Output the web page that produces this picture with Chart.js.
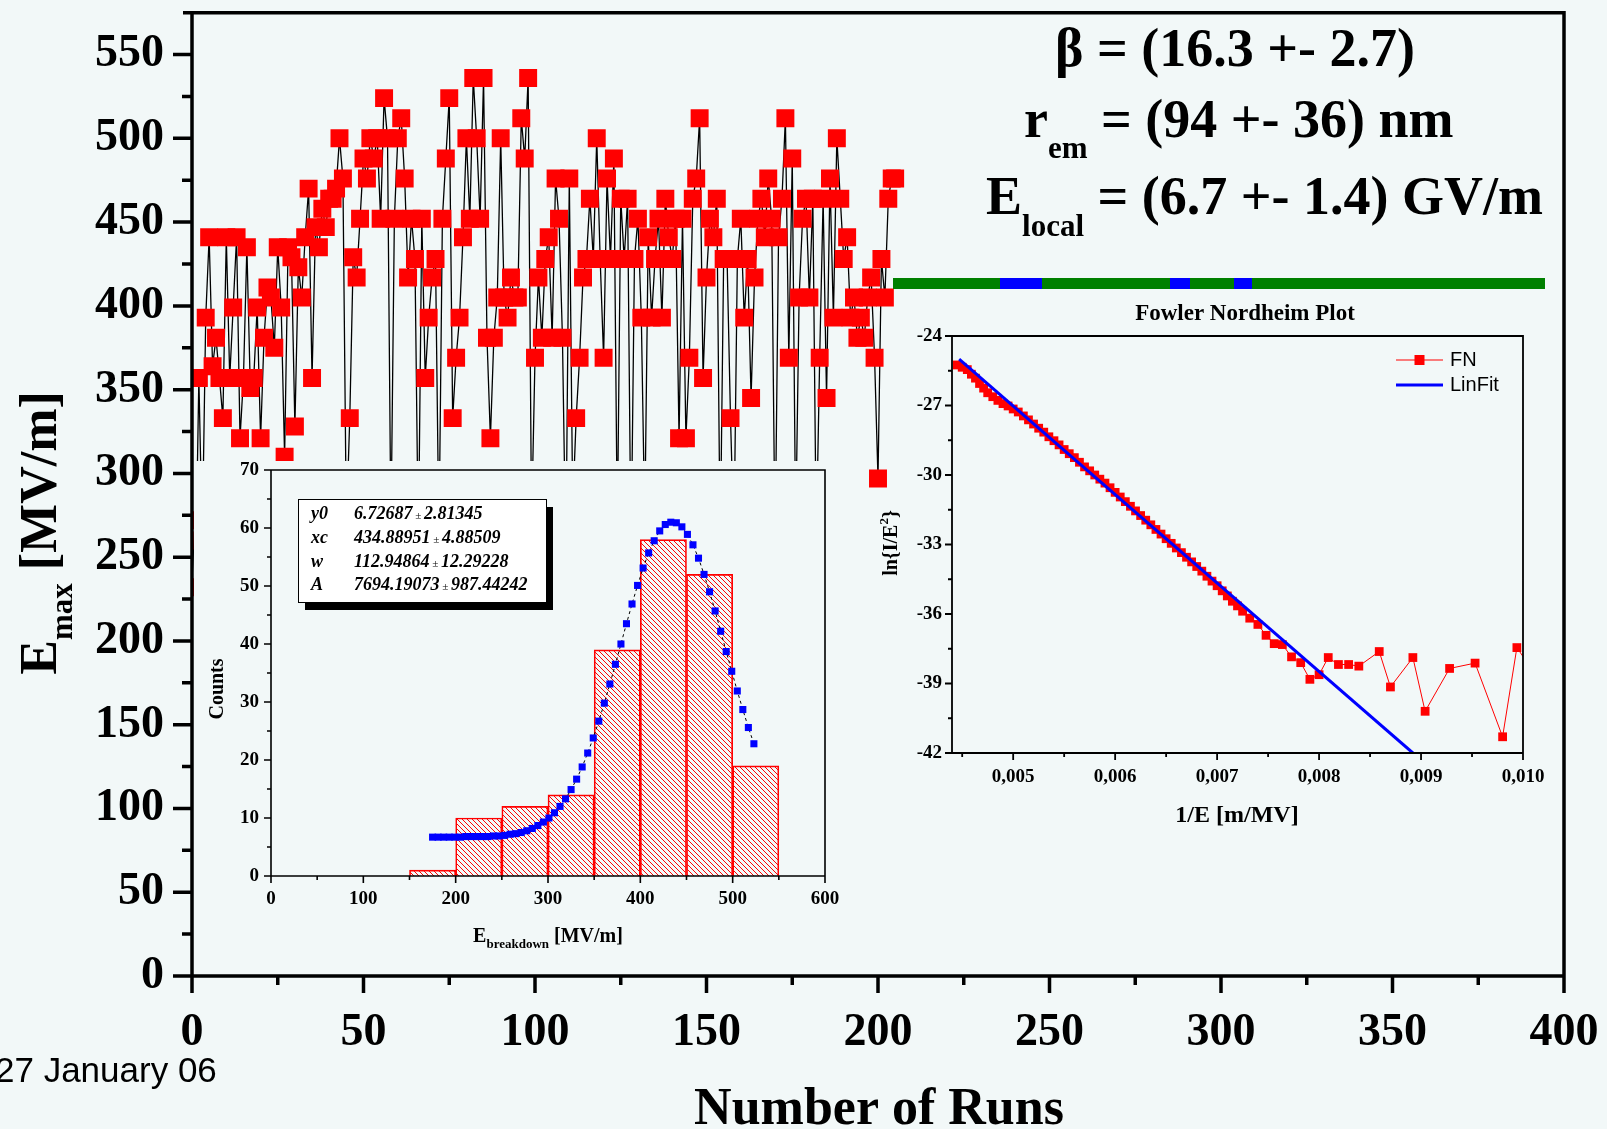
<!DOCTYPE html>
<html><head><meta charset="utf-8">
<script src="https://cdn.jsdelivr.net/npm/chart.js@4/dist/chart.umd.min.js"></script>
<style>
html,body{margin:0;padding:0;background:#f2f8f8;overflow:hidden;}
#wrap{position:relative;width:1607px;height:1129px;background:#f2f8f8;}
canvas{position:absolute;}
#main{left:0;top:0;}
#hist{left:194px;top:461px;background:#f2f8f8;}
#fn{left:878px;top:295px;}
</style></head><body>
<div id="wrap">
<canvas id="main" width="1607" height="1129"></canvas>
<canvas id="hist" width="675" height="512"></canvas>
<canvas id="fn" width="680" height="535"></canvas>
</div>
<script>
// ================= DATA =================
// Main chart: breakdown field E_max [MV/m] for each run (index = run number)
const runValues = [
272,232,357,260,393,441,364,381,357,333,
441,357,399,441,321,357,435,351,357,399,
321,381,411,405,375,435,399,310,435,429,
328,423,405,441,470,357,447,435,458,447,
464,464,470,500,476,270,333,429,417,452,
488,476,500,488,500,452,524,500,265,452,
500,512,476,417,452,428,255,452,357,393,
417,428,260,452,488,524,333,369,393,441,
500,452,536,500,452,536,381,321,381,405,
500,405,393,417,405,405,512,488,536,270,
369,417,381,428,441,381,476,452,381,250,
476,280,333,369,417,428,464,428,500,428,
369,476,428,488,265,464,428,464,250,428,
452,393,270,441,393,428,452,393,464,441,
428,452,321,452,321,369,464,476,512,357,
417,452,441,464,255,428,428,333,260,428,
452,393,428,345,417,452,464,441,476,452,
255,441,464,512,369,488,265,405,452,464,
405,464,260,369,464,345,476,393,500,464,
428,441,393,405,381,393,381,405,417,369,
297,428,405,464,476,476];
const xMajorTicks = [0,50,100,150,200,250,300,350,400];
const xMinorTicks = [25,75,125,175,225,275,325,375];
const yMajorTicks = [0,50,100,150,200,250,300,350,400,450,500,550];
const yMinorTicks = [25,75,125,175,225,275,325,375,425,475,525];

// Histogram inset
const histCenters = [175,225,275,325,375,425,475,525];
const histCounts  = [1,10,12,14,39,58,52,19];
const fitX = [175,181,187,193,199,205,211,217,223,229,235,241,247,253,259,265,271,277,283,289,
  295,301,307,313,319,325,331,337,343,349,355,361,367,373,379,385,391,397,403,409,
  415,421,427,433,439,445,451,457,463,469,475,481,487,493,499,505,511,517,523];
const fitY = [6.7,6.7,6.7,6.7,6.7,6.7,6.8,6.8,6.8,6.8,6.8,6.9,6.9,7.0,7.2,7.3,7.5,7.8,8.2,8.7,
  9.3,10.0,10.9,12.0,13.3,14.9,16.7,18.8,21.2,23.8,26.7,29.8,33.1,36.5,40.0,43.5,46.9,50.1,53.1,55.7,
  57.8,59.5,60.6,61.0,60.9,60.2,58.9,57.1,54.8,52.0,49.0,45.7,42.2,38.7,35.3,31.9,28.7,25.6,22.8];
const histXMajor = [0,100,200,300,400,500,600];
const histXMinor = [50,150,250,350,450,550];
const histYMajor = [0,10,20,30,40,50,60,70];
const histYMinor = [5,15,25,35,45,55,65];
const fitNames  = ['y0','xc','w','A'];
const fitValues = ['6.72687','434.88951','112.94864','7694.19073'];
const fitErrors = ['2.81345','4.88509','12.29228','987.44242'];

// Fowler Nordheim inset
const fnX = [0.00445,0.00450,0.00455,0.00459,0.00463,0.00467,0.00471,0.00475,0.00480,0.00485,
  0.00490,0.00495,0.00500,0.00505,0.00510,0.00515,0.00520,0.00525,0.00530,0.00535,
  0.00540,0.00545,0.00550,0.00555,0.00560,0.00565,0.00570,0.00575,0.00580,0.00585,
  0.00590,0.00595,0.00600,0.00605,0.00610,0.00615,0.00620,0.00625,0.00630,0.00635,
  0.00640,0.00645,0.00650,0.00655,0.00660,0.00665,0.00670,0.00675,0.00680,0.00685,
  0.00690,0.00695,0.00700,0.00705,0.00710,0.00715,0.00720,0.00725,0.00732,0.00740,
  0.00748,0.00756,0.00764,0.00773,0.00782,0.00791,0.00800,0.00809,0.00819,0.00829,
  0.00839,0.00859,0.00870,0.00892,0.00904,0.00928,0.00953,0.00980,0.00994,0.01015];
const fnY = [-25.25,-25.35,-25.45,-25.65,-25.82,-26.05,-26.25,-26.45,-26.62,-26.78,
  -26.92,-27.02,-27.15,-27.28,-27.45,-27.62,-27.80,-27.98,-28.15,-28.35,
  -28.52,-28.70,-28.90,-29.08,-29.25,-29.45,-29.65,-29.82,-30.00,-30.18,
  -30.35,-30.55,-30.75,-30.95,-31.15,-31.35,-31.55,-31.75,-31.95,-32.15,
  -32.35,-32.55,-32.75,-32.95,-33.15,-33.35,-33.55,-33.75,-33.95,-34.15,
  -34.37,-34.58,-34.78,-35.00,-35.22,-35.45,-35.65,-35.88,-36.18,-36.45,
  -36.92,-37.28,-37.32,-37.85,-38.10,-38.82,-38.62,-37.88,-38.18,-38.18,
  -38.25,-37.62,-39.15,-37.88,-40.20,-38.35,-38.12,-41.30,-37.45,-38.80];
const linFitX = [0.00447,0.00892];
const linFitY = [-25.0,-42.0];
const fnXMajor = [0.005,0.006,0.007,0.008,0.009,0.010];
const fnXMinor = [0.0045,0.0055,0.0065,0.0075,0.0085,0.0095];
const fnYMajor = [-42,-39,-36,-33,-30,-27,-24];
const fnYMinor = [-40.5,-37.5,-34.5,-31.5,-28.5,-25.5];

// ================= HELPERS =================
const SERIF = '"Liberation Serif","Times New Roman",serif';
const SANS = '"Liberation Sans",Arial,sans-serif';
function seg(ctx,x1,y1,x2,y2){ctx.moveTo(x1,y1);ctx.lineTo(x2,y2);}
function richWidth(ctx, parts){let w=0;parts.forEach(p=>{ctx.font=p.font;w+=ctx.measureText(p.t).width;});return w;}
function drawRich(ctx, parts, x, y, align){
  const w = richWidth(ctx, parts);
  let cx = align==='center' ? x-w/2 : (align==='right' ? x-w : x);
  ctx.textAlign='left'; ctx.textBaseline='alphabetic';
  parts.forEach(p=>{ctx.font=p.font;ctx.fillText(p.t,cx,y+(p.dy||0));cx+=ctx.measureText(p.t).width;});
}
function B(s){return `bold ${s}px ${SERIF}`;}
function fixSize(prop, val){
  return s => { s[prop]=val; s.paddingTop=0; s.paddingBottom=0; s.paddingLeft=0; s.paddingRight=0; };
}

// ================= MAIN CHART =================
const mainPlugin = {
  id:'mainFrame',
  afterDraw(chart){
    const ctx = chart.ctx, ca = chart.chartArea, xs = chart.scales.x, ys = chart.scales.y;
    ctx.save();
    ctx.strokeStyle='#000'; ctx.lineWidth=3.5; ctx.lineCap='butt';
    ctx.beginPath();
    seg(ctx, ca.left-1.75, ca.bottom, ca.right+1.75, ca.bottom);
    seg(ctx, ca.left, ca.bottom, ca.left, ca.top-1.75);
    seg(ctx, ca.left-9, ca.top, ca.right+1.75, ca.top);
    seg(ctx, ca.right, ca.top, ca.right, ca.bottom);
    yMajorTicks.forEach(v=>{const p=ys.getPixelForValue(v);seg(ctx,ca.left-19,p,ca.left,p);});
    yMinorTicks.forEach(v=>{const p=ys.getPixelForValue(v);seg(ctx,ca.left-10,p,ca.left,p);});
    xMajorTicks.forEach(v=>{const p=xs.getPixelForValue(v);seg(ctx,p,ca.bottom,p,ca.bottom+17);});
    xMinorTicks.forEach(v=>{const p=xs.getPixelForValue(v);seg(ctx,p,ca.bottom,p,ca.bottom+9);});
    ctx.stroke();
    ctx.fillStyle='#000';
    // axis titles
    ctx.save(); ctx.translate(56,533); ctx.rotate(-Math.PI/2);
    drawRich(ctx,[{t:'E',font:B(52)},{t:'max',font:B(31),dy:16},{t:' [MV/m]',font:B(52)}],0,0,'center');
    ctx.restore();
    drawRich(ctx,[{t:'Number of Runs',font:B(52)}],879,1124,'center');
    // annotations
    drawRich(ctx,[{t:'\u03B2 = (16.3 +- 2.7)',font:B(54)}],1055,66,'left');
    drawRich(ctx,[{t:'r',font:B(54)},{t:'em',font:B(31),dy:21},{t:' = (94 +- 36) nm',font:B(54)}],1024,137,'left');
    drawRich(ctx,[{t:'E',font:B(54)},{t:'local',font:B(31),dy:22},{t:' = (6.7 +- 1.4) GV/m',font:B(54)}],986,214,'left');
    // coloured bar above FN plot
    ctx.fillStyle='#008000'; ctx.fillRect(893,278,652,11);
    ctx.fillStyle='#0000ff';
    ctx.fillRect(1000,278,42,11); ctx.fillRect(1170,278,20,11); ctx.fillRect(1234,278,18,11);
    // date
    ctx.fillStyle='#000';
    ctx.font=`35px ${SANS}`; ctx.textAlign='left'; ctx.textBaseline='alphabetic';
    ctx.fillText('27 January 06',-5,1082);
    ctx.restore();
  }
};

new Chart(document.getElementById('main'),{
  type:'line',
  data:{datasets:[{
    data: runValues.map((v,i)=>({x:i,y:v})),
    borderColor:'#000', borderWidth:1.3, tension:0,
    pointStyle:'rect', pointRadius:12.7, pointHoverRadius:12.7,
    pointBackgroundColor:'#ff0000', pointBorderColor:'#ff0000', pointBorderWidth:0
  }]},
  options:{
    responsive:false, animation:false, events:[],
    layout:{padding:{top:7,right:43,left:0,bottom:0}},
    plugins:{legend:{display:false},tooltip:{enabled:false}},
    scales:{
      x:{type:'linear',min:0,max:400,
         afterBuildTicks:s=>{s.ticks=xMajorTicks.map(v=>({value:v}));},
         afterFit:fixSize('height',153),
         grid:{display:false,drawTicks:false},border:{display:false},
         ticks:{font:{family:SERIF,size:46,weight:'bold'},color:'#000',padding:30,maxRotation:0,autoSkip:false}},
      y:{type:'linear',min:0,max:575,
         afterBuildTicks:s=>{s.ticks=yMajorTicks.map(v=>({value:v}));},
         afterFit:fixSize('width',192),
         grid:{display:false,drawTicks:false},border:{display:false},
         ticks:{font:{family:SERIF,size:46,weight:'bold'},color:'#000',padding:28,autoSkip:false}}
    }
  },
  plugins:[mainPlugin]
});

// ================= HISTOGRAM INSET =================
function makeHatch(){
  const c=document.createElement('canvas'); c.width=5; c.height=5;
  const g=c.getContext('2d');
  g.strokeStyle='#ff0000'; g.lineWidth=1;
  g.beginPath(); g.moveTo(0,0); g.lineTo(5,5); g.moveTo(-1,4); g.lineTo(1,6); g.moveTo(4,-1); g.lineTo(6,1); g.stroke();
  return g.createPattern(c,'repeat');
}
const histPlugin = {
  id:'histFrame',
  afterDraw(chart){
    const ctx=chart.ctx, ca=chart.chartArea, xs=chart.scales.x, ys=chart.scales.y;
    ctx.save(); ctx.strokeStyle='#000'; ctx.lineWidth=1.6;
    ctx.beginPath();
    ctx.rect(ca.left,ca.top,ca.right-ca.left,ca.bottom-ca.top);
    histXMajor.forEach(v=>{const p=xs.getPixelForValue(v);seg(ctx,p,ca.bottom,p,ca.bottom+7);});
    histXMinor.forEach(v=>{const p=xs.getPixelForValue(v);seg(ctx,p,ca.bottom,p,ca.bottom+4);});
    histYMajor.forEach(v=>{const p=ys.getPixelForValue(v);seg(ctx,ca.left-7,p,ca.left,p);});
    histYMinor.forEach(v=>{const p=ys.getPixelForValue(v);seg(ctx,ca.left-4,p,ca.left,p);});
    ctx.stroke();
    ctx.fillStyle='#000';
    ctx.save(); ctx.translate(29,228); ctx.rotate(-Math.PI/2);
    drawRich(ctx,[{t:'Counts',font:B(20)}],0,0,'center');
    ctx.restore();
    drawRich(ctx,[{t:'E',font:B(20)},{t:'breakdown',font:B(13),dy:6},{t:' [MV/m]',font:B(20)}],354,481,'center');
    // fit parameter box with shadow
    const bx=104, by=38, bw=248, bh=103;
    ctx.fillStyle='#000'; ctx.fillRect(bx+7,by+8,bw,bh);
    ctx.fillStyle='#fff'; ctx.fillRect(bx,by,bw,bh);
    ctx.lineWidth=1; ctx.strokeStyle='#000'; ctx.strokeRect(bx+0.5,by+0.5,bw,bh);
    ctx.fillStyle='#000';
    const rows=[58,82,106,129];
    fitNames.forEach((n,i)=>{
      drawRich(ctx,[{t:n,font:`italic bold 18px ${SERIF}`}],117,rows[i],'left');
      drawRich(ctx,[{t:fitValues[i],font:`italic bold 18px ${SERIF}`},{t:' \u00B1 ',font:`italic 11px ${SERIF}`},{t:fitErrors[i],font:`italic bold 18px ${SERIF}`}],160,rows[i],'left');
    });
    ctx.restore();
  }
};
new Chart(document.getElementById('hist'),{
  type:'bar',
  data:{datasets:[
    {type:'bar', data:histCenters.map((c,i)=>({x:c,y:histCounts[i]})),
     backgroundColor:makeHatch(), borderColor:'#ff0000', borderWidth:1,
     barPercentage:1, categoryPercentage:1, order:2},
    {type:'line', data:fitX.map((x,i)=>({x:x,y:fitY[i]})),
     borderColor:'#000', borderWidth:1, borderDash:[3,3], tension:0,
     pointStyle:'rect', pointRadius:5, pointHoverRadius:5,
     pointBackgroundColor:'#0000ff', pointBorderColor:'#0000ff', pointBorderWidth:0, order:1}
  ]},
  options:{
    responsive:false, animation:false, events:[],
    layout:{padding:{top:9,right:44,left:0,bottom:0}},
    plugins:{legend:{display:false},tooltip:{enabled:false}},
    scales:{
      x:{type:'linear',min:0,max:600,offset:false,
         afterBuildTicks:s=>{s.ticks=histXMajor.map(v=>({value:v}));},
         afterFit:fixSize('height',97),
         grid:{display:false,drawTicks:false},border:{display:false},
         ticks:{font:{family:SERIF,size:19,weight:'bold'},color:'#000',padding:12,maxRotation:0,autoSkip:false}},
      y:{type:'linear',min:0,max:70,
         afterBuildTicks:s=>{s.ticks=histYMajor.map(v=>({value:v}));},
         afterFit:fixSize('width',77),
         grid:{display:false,drawTicks:false},border:{display:false},
         ticks:{font:{family:SERIF,size:19,weight:'bold'},color:'#000',padding:12,autoSkip:false}}
    }
  },
  plugins:[histPlugin]
});

// ================= FOWLER NORDHEIM INSET =================
const fnPlugin = {
  id:'fnFrame',
  afterDraw(chart){
    const ctx=chart.ctx, ca=chart.chartArea, xs=chart.scales.x, ys=chart.scales.y;
    ctx.save(); ctx.strokeStyle='#000'; ctx.lineWidth=1.8;
    ctx.beginPath();
    ctx.rect(ca.left,ca.top,ca.right-ca.left,ca.bottom-ca.top);
    fnXMajor.forEach(v=>{const p=xs.getPixelForValue(v);seg(ctx,p,ca.bottom,p,ca.bottom+7);});
    fnXMinor.forEach(v=>{const p=xs.getPixelForValue(v);seg(ctx,p,ca.bottom,p,ca.bottom+4);});
    fnYMajor.forEach(v=>{const p=ys.getPixelForValue(v);seg(ctx,ca.left-7,p,ca.left,p);});
    fnYMinor.forEach(v=>{const p=ys.getPixelForValue(v);seg(ctx,ca.left-4,p,ca.left,p);});
    ctx.stroke();
    ctx.fillStyle='#000';
    drawRich(ctx,[{t:'Fowler Nordheim Plot',font:B(23)}],367,25,'center');
    drawRich(ctx,[{t:'1/E [m/MV]',font:B(24)}],359,527,'center');
    ctx.save(); ctx.translate(19,248); ctx.rotate(-Math.PI/2);
    drawRich(ctx,[{t:'ln{I/E',font:B(20)},{t:'2',font:B(13),dy:-9},{t:'}',font:B(20)}],0,0,'center');
    ctx.restore();
    // legend
    ctx.lineWidth=1; ctx.strokeStyle='#ff0000';
    ctx.beginPath(); seg(ctx,518,65,565,65); ctx.stroke();
    ctx.fillStyle='#ff0000'; ctx.fillRect(536.5,60,10,10);
    ctx.lineWidth=3; ctx.strokeStyle='#0000ff';
    ctx.beginPath(); seg(ctx,518,90,565,90); ctx.stroke();
    ctx.fillStyle='#000'; ctx.font=`20px ${SANS}`; ctx.textAlign='left'; ctx.textBaseline='middle';
    ctx.fillText('FN',572,65); ctx.fillText('LinFit',572,90);
    ctx.restore();
  }
};
new Chart(document.getElementById('fn'),{
  type:'line',
  data:{datasets:[
    {data:fnX.map((x,i)=>({x:x,y:fnY[i]})), borderColor:'#ff0000', borderWidth:1, tension:0,
     pointStyle:'rect', pointRadius:6.2, pointHoverRadius:6.2,
     pointBackgroundColor:'#ff0000', pointBorderColor:'#ff0000', pointBorderWidth:0, order:2},
    {data:linFitX.map((x,i)=>({x:x,y:linFitY[i]})), borderColor:'#0000ff', borderWidth:3,
     pointRadius:0, pointHoverRadius:0, tension:0, order:1}
  ]},
  options:{
    responsive:false, animation:false, events:[],
    layout:{padding:{top:41,right:35,left:0,bottom:0}},
    plugins:{legend:{display:false},tooltip:{enabled:false}},
    scales:{
      x:{type:'linear',min:0.0044,max:0.010,
         afterBuildTicks:s=>{s.ticks=fnXMajor.map(v=>({value:v}));},
         afterFit:fixSize('height',77),
         grid:{display:false,drawTicks:false},border:{display:false},
         ticks:{font:{family:SERIF,size:19,weight:'bold'},color:'#000',padding:13,maxRotation:0,autoSkip:false,
                callback:v=>Number(v).toFixed(3).replace('.',',')}},
      y:{type:'linear',min:-42,max:-24,
         afterBuildTicks:s=>{s.ticks=fnYMajor.map(v=>({value:v}));},
         afterFit:fixSize('width',74),
         grid:{display:false,drawTicks:false},border:{display:false},
         ticks:{font:{family:SERIF,size:19,weight:'bold'},color:'#000',padding:10,autoSkip:false}}
    }
  },
  plugins:[fnPlugin]
});
</script>
</body></html>
